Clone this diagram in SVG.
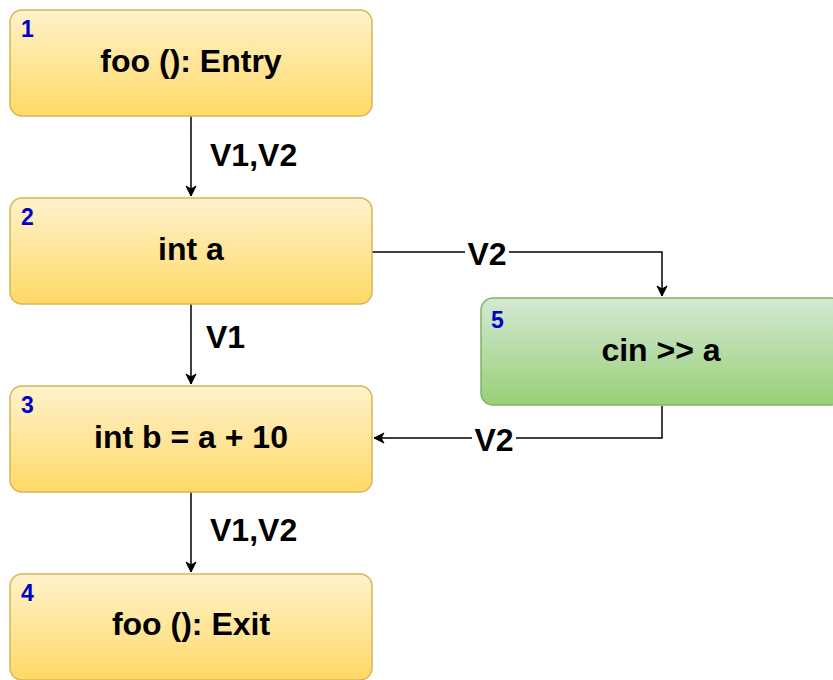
<svg xmlns="http://www.w3.org/2000/svg" width="833" height="680" viewBox="0 0 833 680">
  <style>
    .box-y { fill: url(#gy); stroke: #d6b656; stroke-width: 1.5; }
    .box-g { fill: url(#gg); stroke: #82b366; stroke-width: 1.5; }
    .label { font-family: "Liberation Sans", Arial, sans-serif; font-weight: bold; font-size: 32px; fill: #000; text-anchor: middle; }
    .num { font-family: "Liberation Sans", Arial, sans-serif; font-weight: bold; font-size: 23px; fill: #0000cc; }
    .edge { fill: none; stroke: #000; stroke-width: 1.5; }
    .elabel { font-family: "Liberation Sans", Arial, sans-serif; font-weight: bold; font-size: 32px; fill: #000; }
  </style>
  <defs>
    <linearGradient id="gy" x1="0" y1="0" x2="0" y2="1">
      <stop offset="0" stop-color="#fff2cc"/>
      <stop offset="1" stop-color="#ffd966"/>
    </linearGradient>
    <linearGradient id="gg" x1="0" y1="0" x2="0" y2="1">
      <stop offset="0" stop-color="#d5e8d4"/>
      <stop offset="1" stop-color="#97d077"/>
    </linearGradient>
    <marker id="arrow" viewBox="0 0 12 12" refX="11" refY="6" markerWidth="12" markerHeight="12" markerUnits="userSpaceOnUse" orient="auto">
      <path d="M1,1 L11,6 L1,11 L4,6 Z" fill="#000" stroke="#000" stroke-width="1"/>
    </marker>
  </defs>

  <g id="connectors">
    <path class="edge" d="M191,116 L191,196" marker-end="url(#arrow)"/>
    <path class="edge" d="M191,304 L191,384" marker-end="url(#arrow)"/>
    <path class="edge" d="M191,492 L191,572" marker-end="url(#arrow)"/>
    <path class="edge" d="M372,252 L662,252 L662,296" marker-end="url(#arrow)"/>
    <path class="edge" d="M662,406 L662,438 L374,438" marker-end="url(#arrow)"/>
    <text class="elabel" x="210" y="166">V1,V2</text>
    <text class="elabel" x="206" y="348">V1</text>
    <text class="elabel" x="210" y="541">V1,V2</text>
    <rect x="465" y="238" width="44" height="27" fill="#fff"/>
    <text class="elabel" x="487" y="265" text-anchor="middle">V2</text>
    <rect x="472" y="424" width="44" height="27" fill="#fff"/>
    <text class="elabel" x="494" y="451" text-anchor="middle">V2</text>
  </g>

  <g id="node1">
    <rect class="box-y" x="10" y="10" width="362" height="106" rx="12"/>
    <text class="num" x="21" y="37">1</text>
    <text class="label" x="191" y="72">foo (): Entry</text>
  </g>
  <g id="node2">
    <rect class="box-y" x="10" y="198" width="362" height="106" rx="12"/>
    <text class="num" x="21" y="225">2</text>
    <text class="label" x="191" y="260">int a</text>
  </g>
  <g id="node3">
    <rect class="box-y" x="10" y="386" width="362" height="106" rx="12"/>
    <text class="num" x="21" y="413">3</text>
    <text class="label" x="191" y="448">int b = a + 10</text>
  </g>
  <g id="node4">
    <rect class="box-y" x="10" y="574" width="362" height="106" rx="12"/>
    <text class="num" x="21" y="601">4</text>
    <text class="label" x="191" y="635">foo (): Exit</text>
  </g>
  <g id="node5">
    <rect class="box-g" x="481" y="298" width="362" height="107" rx="12"/>
    <text class="num" x="491" y="328">5</text>
    <text class="label" x="661" y="361">cin &gt;&gt; a</text>
  </g>
</svg>
